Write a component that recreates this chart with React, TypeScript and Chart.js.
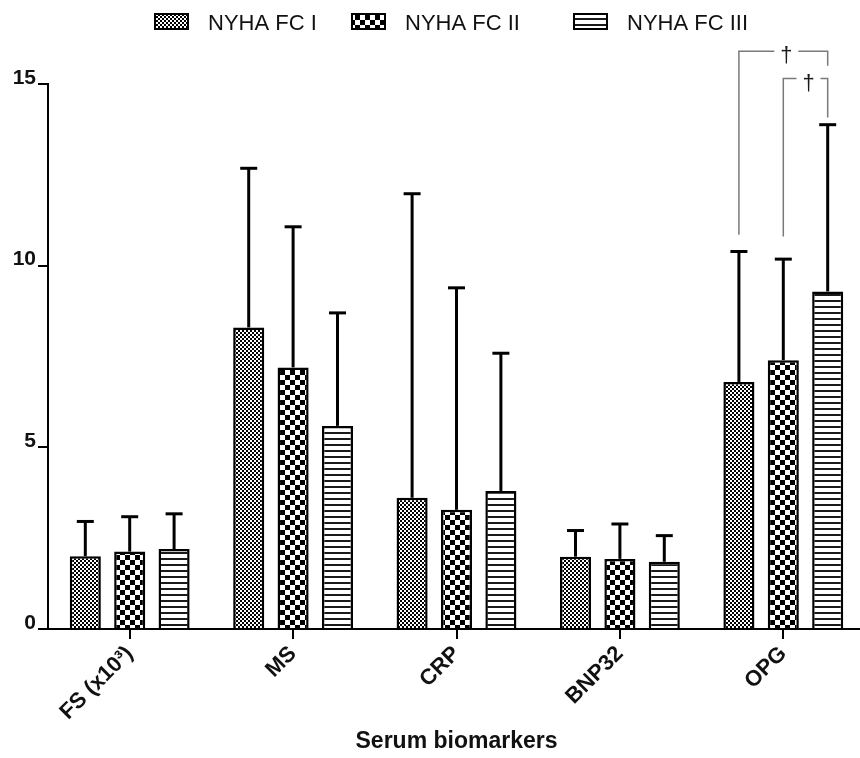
import React, { useEffect, useRef } from 'react';
import { Chart, registerables } from 'chart.js';

Chart.register(...registerables);

const categories = ['FS (x10³)', 'MS', 'CRP', 'BNP32', 'OPG'];
const seriesNames = ['NYHA FC I', 'NYHA FC II', 'NYHA FC III'];

const fc1Means = [2.0, 8.3, 3.61, 1.99, 6.8];
const fc1Sd = [0.96, 4.38, 8.37, 0.72, 3.59];
const fc2Means = [2.13, 7.2, 3.28, 1.93, 7.4];
const fc2Sd = [0.96, 3.87, 6.11, 0.96, 2.78];
const fc3Means = [2.2, 5.59, 3.8, 1.85, 9.29];
const fc3Sd = [0.97, 3.11, 3.79, 0.72, 4.59];

const yTickStep = 5;
const yMin = 0;
const yMax = 15;

// significance brackets on OPG (category index 4): [fromSeries, toSeries]
const bracketCategory = 4;
const bracketPairs = [
  [0, 2],
  [1, 2],
];
const bracketLevels = [15.9, 15.15];
const bracketLeftEnds = [10.85, 10.8];
const bracketRightEnds = [15.5, 14.08];
const bracketMark = '†';

const FONT = "'Liberation Sans', Arial, Helvetica, sans-serif";

function makePattern(kind: number): CanvasPattern | string {
  const c = document.createElement('canvas');
  const ctx = c.getContext('2d');
  if (!ctx) return '#888';
  if (kind === 0) {
    c.width = 4;
    c.height = 4;
    ctx.fillStyle = '#fff';
    ctx.fillRect(0, 0, 4, 4);
    ctx.fillStyle = '#000';
    ctx.fillRect(0, 0, 2, 2);
    ctx.fillRect(2, 2, 2, 2);
  } else if (kind === 1) {
    c.width = 10;
    c.height = 10;
    ctx.fillStyle = '#fff';
    ctx.fillRect(0, 0, 10, 10);
    ctx.fillStyle = '#000';
    ctx.fillRect(0, 0, 5, 5);
    ctx.fillRect(5, 5, 5, 5);
  } else {
    c.width = 6;
    c.height = 6;
    ctx.fillStyle = '#fff';
    ctx.fillRect(0, 0, 6, 6);
    ctx.fillStyle = '#1a1a1a';
    ctx.fillRect(0, 0, 6, 2);
  }
  const p = ctx.createPattern(c, 'repeat');
  return p || '#888';
}

export default function App() {
  const ref = useRef<HTMLCanvasElement | null>(null);

  useEffect(() => {
    const canvas = ref.current;
    if (!canvas) return;
    const patterns = [makePattern(0), makePattern(1), makePattern(2)];
    const sds = [fc1Sd, fc2Sd, fc3Sd];
    const means = [fc1Means, fc2Means, fc3Means];

    const errorBars = {
      id: 'errorBars',
      afterDatasetsDraw(chart: any) {
        const ctx = chart.ctx;
        const yScale = chart.scales.y;
        ctx.save();
        ctx.strokeStyle = '#000';
        ctx.lineWidth = 3;
        ctx.lineCap = 'butt';
        for (let d = 0; d < 3; d++) {
          const meta = chart.getDatasetMeta(d);
          meta.data.forEach((el: any, i: number) => {
            const top = yScale.getPixelForValue(means[d][i] + sds[d][i]);
            ctx.beginPath();
            ctx.moveTo(el.x, el.y);
            ctx.lineTo(el.x, top);
            ctx.stroke();
            ctx.beginPath();
            ctx.moveTo(el.x - 8.5, top);
            ctx.lineTo(el.x + 8.5, top);
            ctx.stroke();
          });
        }
        ctx.restore();
      },
    };

    const extras = {
      id: 'extras',
      afterDraw(chart: any) {
        const ctx = chart.ctx;
        const yScale = chart.scales.y;
        ctx.save();
        // brackets
        bracketPairs.forEach((pair, k) => {
          const a = chart.getDatasetMeta(pair[0]).data[bracketCategory];
          const b = chart.getDatasetMeta(pair[1]).data[bracketCategory];
          const y = yScale.getPixelForValue(bracketLevels[k]);
          const yl = yScale.getPixelForValue(bracketLeftEnds[k]);
          const yr = yScale.getPixelForValue(bracketRightEnds[k]);
          const mid = (a.x + b.x) / 2 + 3;
          ctx.strokeStyle = '#7a7a7a';
          ctx.lineWidth = 1.5;
          ctx.beginPath();
          ctx.moveTo(a.x, yl);
          ctx.lineTo(a.x, y);
          ctx.lineTo(mid - 12, y);
          ctx.moveTo(mid + 12, y);
          ctx.lineTo(b.x, y);
          ctx.lineTo(b.x, yr);
          ctx.stroke();
          ctx.fillStyle = '#1a1a1a';
          ctx.font = `22px ${FONT}`;
          ctx.textAlign = 'center';
          ctx.textBaseline = 'middle';
          ctx.fillText(bracketMark, mid, y + 5);
        });
        // legend
        const boxX = [155, 352, 574];
        seriesNames.forEach((name, i) => {
          ctx.fillStyle = patterns[i] as any;
          ctx.fillRect(boxX[i], 14, 33, 15);
          ctx.strokeStyle = '#000';
          ctx.lineWidth = 2;
          ctx.strokeRect(boxX[i], 14, 33, 15);
          ctx.fillStyle = '#111';
          ctx.font = `22px ${FONT}`;
          ctx.textAlign = 'left';
          ctx.textBaseline = 'alphabetic';
          ctx.fillText(name, boxX[i] + 53, 30);
        });
        ctx.restore();
      },
    };

    const chart = new Chart(canvas, {
      type: 'bar',
      data: {
        labels: categories,
        datasets: seriesNames.map((name, i) => ({
          label: name,
          data: means[i],
          backgroundColor: patterns[i] as any,
          borderColor: '#000',
          borderWidth: 2.5,
        })),
      },
      options: {
        responsive: false,
        animation: false,
        devicePixelRatio: 1,
        layout: { padding: { top: 84, right: 1, left: 0, bottom: 0 } },
        datasets: { bar: { categoryPercentage: 0.815, barPercentage: 0.7 } },
        plugins: { legend: { display: false }, tooltip: { enabled: false } },
        scales: {
          x: {
            offset: true,
            grid: {
              offset: false,
              drawOnChartArea: false,
              drawTicks: true,
              tickLength: 10,
              lineWidth: 2,
              color: '#000',
            },
            border: { display: true, width: 2, color: '#000' },
            ticks: {
              font: { family: FONT, size: 22, weight: 'bold' },
              color: '#111',
              maxRotation: 45,
              minRotation: 45,
              padding: 2,
            },
            title: {
              display: true,
              text: 'Serum biomarkers',
              font: { family: FONT, size: 23, weight: 'bold' },
              color: '#111',
              padding: { top: 0, bottom: 3 },
            },
            afterFit: (s: any) => {
              s.height = 129;
            },
          },
          y: {
            min: yMin,
            max: yMax,
            ticks: {
              stepSize: yTickStep,
              font: { family: FONT, size: 21, weight: 'bold' },
              color: '#111',
              padding: 2,
              labelOffset: -6,
            },
            grid: {
              drawOnChartArea: false,
              drawTicks: true,
              tickLength: 10,
              lineWidth: 2,
              color: '#000',
            },
            border: { display: true, width: 2, color: '#000' },
            afterFit: (s: any) => {
              s.width = 48;
            },
          },
        },
      } as any,
      plugins: [errorBars, extras],
    });
    return () => chart.destroy();
  }, []);

  return (
    <div
      style={{
        position: 'absolute',
        left: 0,
        top: 0,
        width: 860,
        height: 758,
        overflow: 'hidden',
        background: '#fff',
      }}
    >
      <canvas ref={ref} width={866} height={758} style={{ display: 'block' }} />
    </div>
  );
}
